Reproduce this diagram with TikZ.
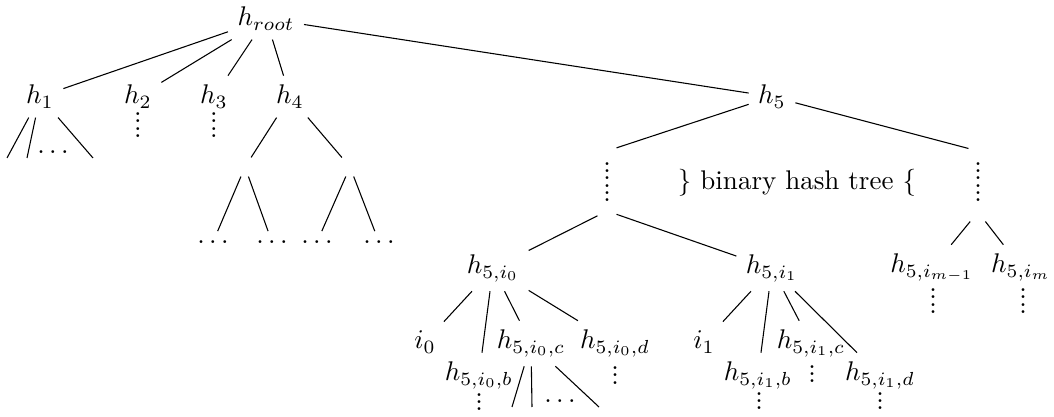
\documentclass[tikz,border=0pt]{standalone}
\newcount\dotcnt
\newcommand{\dotcol}[1]{\vbox{\baselineskip=2.65pt\lineskiplimit=-100pt\dotcnt=#1\relax\loop\hbox{.}\advance\dotcnt by -1\relax\ifnum\dotcnt>0\repeat}}
\tikzset{
  lbl/.style={inner sep=0.3333em, anchor=base},
  blank/.style={inner sep=0.3333em, minimum size=0pt},
  vd/.style={inner sep=0pt, anchor=center},
  edge/.style={line width=0.4pt}
}
\begin{document}
\begin{tikzpicture}[x=0.3704pt, y=-0.3704pt]
\useasboundingbox (0,0) rectangle (1054,417);
% level 0 and 1
\node[lbl] (root) at (266,26) {$h_{root}$};
\node[lbl] (h1) at (40,104) {$h_1$};
\node[lbl] (h2) at (138,104) {$h_2$};
\node[lbl] (h3) at (214,104) {$h_3$};
\node[lbl] (h4) at (290,104) {$h_4$};
\node[lbl] (h5) at (772,104) {$h_5$};
% below h1..h4
\node[vd] (h2v) at (138,125) {\dotcol{4}};
\node[vd] (h3v) at (214,125) {\dotcol{4}};
\coordinate (c11) at (7,158);
\coordinate (c12) at (27,158);
\coordinate (c13) at (93,158);
\node[lbl] (h1d) at (53,154) {$\dots$};
\node[blank] (e1) at (245,167) {};
\node[blank] (e2) at (350,167) {};
\node[lbl] (d1) at (213,243.5) {$\dots$};
\node[lbl] (d2) at (272,243.5) {$\dots$};
\node[lbl] (d3) at (317,243.5) {$\dots$};
\node[lbl] (d4) at (379,243.5) {$\dots$};
% binary hash tree part
\node[blank] (lvtop) at (607,151) {};
\node[vd] (lvdots) at (607,182) {\dotcol{6}};
\node[blank] (lvbot) at (607,211) {};
\node[blank] (rvtop) at (978,151) {};
\node[vd] (rvdots) at (978,182) {\dotcol{6}};
\node[blank] (rvbot) at (978,212) {};
\node[lbl] (bt) at (797,190) {\} binary hash tree \{};
% level under binary tree
\node[lbl] (a) at (493,274) {$h_{5,i_0}$};
\node[lbl] (b) at (772,274) {$h_{5,i_1}$};
\node[lbl] (c) at (932,273) {$h_{5,i_{m-1}}$};
\node[lbl] (d) at (1021,273) {$h_{5,i_m}$};
\node[vd] (cv) at (933,301) {\dotcol{4}};
\node[vd] (dv) at (1023,301) {\dotcol{4}};
% children of h5,i0
\node[lbl] (i0) at (425,349) {$i_0$};
\node[lbl] (aib) at (479,381) {$h_{5,i_0,b}$};
\node[lbl] (aic) at (531,349) {$h_{5,i_0,c}$};
\node[lbl] (aid) at (615,349) {$h_{5,i_0,d}$};
\node[vd] (aidv) at (615,375.5) {\dotcol{3}};
\node[vd] (aibv) at (479,402) {\dotcol{3}};
\coordinate (x1) at (512,407);
\coordinate (x2) at (532,407);
\coordinate (x3) at (599,407);
\node[lbl] (aicd) at (560,402.5) {$\dots$};
% children of h5,i1
\node[lbl] (i1) at (704,349) {$i_1$};
\node[lbl] (bib) at (758,381) {$h_{5,i_1,b}$};
\node[lbl] (bic) at (811,349) {$h_{5,i_1,c}$};
\node[lbl] (bid) at (880,381) {$h_{5,i_1,d}$};
\node[vd] (bicv) at (812,374) {\dotcol{3}};
\node[vd] (bibv) at (759,401) {\dotcol{3}};
\node[vd] (bidv) at (880,401) {\dotcol{3}};
% edges
\draw[edge] (root) -- (h1);
\draw[edge] (root) -- (h2);
\draw[edge] (root) -- (h3);
\draw[edge] (root) -- (h4);
\draw[edge] (root) -- (h5);
\draw[edge] (h1) -- (c11);
\draw[edge] (h1) -- (c12);
\draw[edge] (h1) -- (c13);
\draw[edge] (h4) -- (e1);
\draw[edge] (h4) -- (e2);
\draw[edge] (e1) -- (d1);
\draw[edge] (e1) -- (d2);
\draw[edge] (e2) -- (d3);
\draw[edge] (e2) -- (d4);
\draw[edge] (h5) -- (lvtop);
\draw[edge] (h5) -- (rvtop);
\draw[edge] (lvbot) -- (a);
\draw[edge] (lvbot) -- (b);
\draw[edge] (rvbot) -- (c);
\draw[edge] (rvbot) -- (d);
\draw[edge] (a) -- (i0);
\draw[edge] (a) -- (aib);
\draw[edge] (a) -- (aic);
\draw[edge] (a) -- (aid);
\draw[edge] (b) -- (i1);
\draw[edge] (b) -- (bib);
\draw[edge] (b) -- (bic);
\draw[edge] (b) -- (bid);
\draw[edge] (aic) -- (x1);
\draw[edge] (aic) -- (x2);
\draw[edge] (aic) -- (x3);
\end{tikzpicture}
\end{document}
